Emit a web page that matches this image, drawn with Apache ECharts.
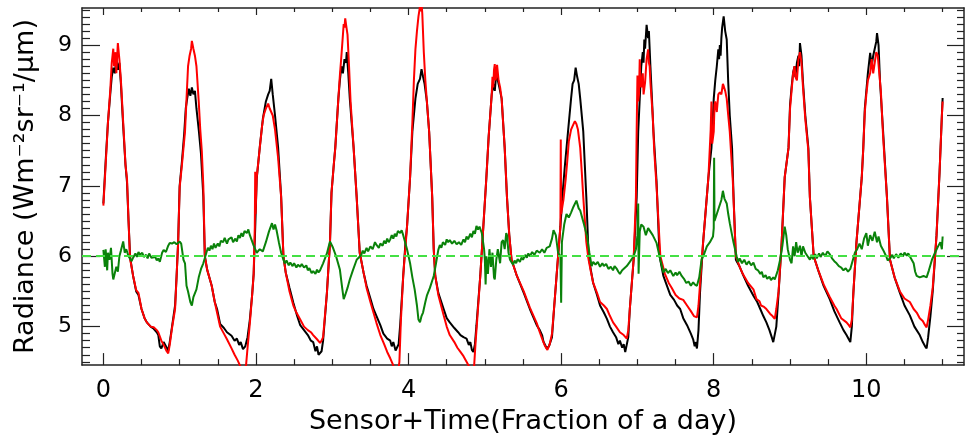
<!DOCTYPE html>
<html>
<head>
<meta charset="utf-8">
<script src="https://cdn.jsdelivr.net/npm/echarts@6/dist/echarts.min.js"></script>
<style>
html,body{margin:0;padding:0;background:#fff;}
#chart{width:965px;height:440px;}
</style>
</head>
<body>
<div id="chart"></div>
<script>
// ---- Data ----
const xTickLabels = [0, 2, 4, 6, 8, 10];
const yTickLabels = [5, 6, 7, 8, 9];
const referenceLevel = 6.0;

const blackSeries = [
[0.00,6.75],[0.03,7.35],[0.06,7.9],[0.09,8.3],[0.11,8.55],[0.13,8.68],[0.15,8.6],[0.17,8.8],[0.19,8.65],[0.21,8.75],[0.23,8.45],[0.26,7.85],[0.29,7.3],[0.31,7.05],[0.33,6.5],[0.35,6.0],[0.37,5.85],[0.39,5.72],[0.43,5.5],[0.46,5.45],[0.50,5.25],[0.54,5.12],[0.57,5.06],[0.62,5.0],[0.66,4.97],[0.70,4.92],[0.72,4.88],[0.74,4.72],[0.76,4.69],[0.79,4.78],[0.82,4.72],[0.85,4.66],
[0.87,4.78],[0.90,5.0],[0.94,5.3],[0.96,5.72],[0.98,6.2],[1.00,7.0],[1.03,7.35],[1.06,7.75],[1.08,8.1],[1.10,8.25],[1.12,8.38],[1.14,8.28],[1.16,8.4],[1.18,8.3],[1.20,8.35],[1.22,8.1],[1.25,7.8],[1.28,7.45],[1.31,6.85],[1.33,6.0],[1.36,5.81],[1.42,5.58],[1.46,5.35],[1.49,5.25],[1.53,5.04],[1.58,4.98],[1.62,4.92],[1.68,4.87],[1.72,4.8],[1.75,4.83],[1.78,4.74],[1.80,4.78],[1.83,4.68],
[1.86,4.72],[1.89,4.85],[1.92,5.1],[1.95,5.45],[1.97,5.75],[1.99,6.4],[2.01,7.1],[2.05,7.55],[2.09,7.95],[2.13,8.2],[2.16,8.3],[2.18,8.35],[2.20,8.52],[2.22,8.3],[2.25,8.0],[2.29,7.55],[2.33,6.85],[2.36,6.0],[2.39,5.77],[2.44,5.55],[2.49,5.34],[2.54,5.15],[2.58,5.02],[2.63,4.95],[2.68,4.88],[2.72,4.8],[2.75,4.78],[2.78,4.65],[2.80,4.72],[2.82,4.6],[2.84,4.58],
[2.86,4.65],[2.88,4.8],[2.93,5.48],[2.97,6.19],[2.99,6.9],[3.02,7.3],[3.04,7.55],[3.08,8.24],[3.10,8.5],[3.12,8.7],[3.14,8.6],[3.16,8.8],[3.18,8.75],[3.19,8.9],[3.21,8.6],[3.23,8.24],[3.28,7.54],[3.32,6.84],[3.36,6.05],[3.41,5.77],[3.45,5.58],[3.50,5.4],[3.54,5.25],[3.58,5.15],[3.63,5.02],[3.67,4.9],[3.72,4.83],[3.76,4.8],[3.78,4.72],[3.80,4.78],[3.83,4.66],[3.85,4.64],
[3.87,4.75],[3.89,5.02],[3.93,5.72],[3.96,6.2],[3.98,6.42],[4.02,7.12],[4.05,7.77],[4.09,8.24],[4.12,8.45],[4.15,8.52],[4.17,8.66],[4.19,8.55],[4.21,8.45],[4.24,8.2],[4.27,7.77],[4.31,6.84],[4.33,6.1],[4.35,5.72],[4.39,5.48],[4.46,5.25],[4.50,5.12],[4.54,5.06],[4.60,4.98],[4.65,4.92],[4.68,4.88],[4.72,4.85],[4.76,4.83],[4.79,4.74],[4.81,4.78],[4.83,4.67],[4.85,4.64],
[4.87,4.75],[4.89,5.02],[4.94,5.72],[4.98,6.42],[5.02,7.12],[5.05,7.7],[5.07,8.0],[5.09,8.3],[5.11,8.45],[5.13,8.35],[5.15,8.6],[5.17,8.5],[5.19,8.4],[5.22,8.24],[5.26,7.54],[5.29,6.84],[5.32,6.3],[5.35,5.95],[5.42,5.72],[5.51,5.48],[5.59,5.25],[5.68,5.02],[5.72,4.95],[5.75,4.88],[5.77,4.78],[5.79,4.74],[5.81,4.69],
[5.84,4.72],[5.88,4.85],[5.91,5.3],[5.94,5.72],[5.99,6.42],[6.02,6.9],[6.05,7.3],[6.09,7.77],[6.13,8.24],[6.15,8.45],[6.17,8.5],[6.19,8.68],[6.21,8.55],[6.23,8.45],[6.25,8.24],[6.29,7.77],[6.31,7.3],[6.33,6.84],[6.36,6.0],[6.39,5.8],[6.42,5.62],[6.47,5.45],[6.51,5.3],[6.56,5.2],[6.60,5.11],[6.64,5.0],[6.68,4.92],[6.72,4.85],[6.75,4.75],[6.77,4.8],[6.80,4.7],[6.82,4.75],[6.84,4.64],[6.86,4.62],
[6.88,4.85],[6.90,5.25],[6.95,5.95],[6.99,6.84],[7.01,7.77],[7.03,8.24],[7.05,8.7],[7.07,8.9],[7.08,8.75],[7.09,9.08],[7.10,8.95],[7.12,9.29],[7.14,9.1],[7.15,9.2],[7.17,8.7],[7.19,8.24],[7.21,7.77],[7.25,7.07],[7.29,6.0],[7.34,5.72],[7.38,5.6],[7.43,5.45],[7.48,5.38],[7.52,5.3],[7.56,5.25],[7.60,5.12],[7.65,5.02],[7.70,4.9],[7.73,4.82],[7.75,4.72],[7.76,4.78],[7.78,4.69],
[7.80,4.95],[7.82,5.48],[7.86,6.19],[7.93,7.12],[7.97,7.54],[8.00,8.24],[8.02,8.5],[8.04,8.7],[8.06,8.94],[8.07,8.8],[8.08,9.0],[8.09,8.85],[8.10,9.1],[8.11,9.25],[8.13,9.41],[8.15,9.2],[8.17,9.08],[8.19,8.47],[8.21,8.0],[8.24,7.54],[8.26,6.84],[8.29,5.95],[8.34,5.85],[8.39,5.72],[8.45,5.58],[8.52,5.44],[8.57,5.35],[8.61,5.25],[8.65,5.15],[8.69,5.06],[8.73,4.95],[8.76,4.85],[8.78,4.78],[8.80,4.76],
[8.82,5.0],[8.85,5.48],[8.89,6.19],[8.93,7.12],[8.98,7.54],[9.00,8.15],[9.02,8.4],[9.04,8.61],[9.06,8.7],[9.07,8.55],[9.09,8.75],[9.11,8.85],[9.12,8.7],[9.13,9.03],[9.15,8.85],[9.17,8.47],[9.20,8.0],[9.24,7.54],[9.26,6.84],[9.31,6.0],[9.37,5.8],[9.44,5.58],[9.52,5.39],[9.58,5.22],[9.65,5.06],[9.70,4.95],[9.74,4.88],[9.77,4.82],[9.79,4.78],
[9.81,5.0],[9.83,5.48],[9.87,6.19],[9.94,7.12],[9.96,7.54],[9.98,8.1],[10.00,8.35],[10.02,8.6],[10.05,8.89],[10.07,8.7],[10.09,8.85],[10.11,8.95],[10.13,9.05],[10.14,9.17],[10.16,9.0],[10.18,8.47],[10.22,7.77],[10.27,6.84],[10.31,5.95],[10.37,5.7],[10.44,5.48],[10.50,5.3],[10.57,5.16],[10.63,5.0],[10.70,4.88],[10.74,4.78],[10.77,4.72],[10.79,4.69],
[10.81,4.85],[10.84,5.15],[10.87,5.5],[10.92,6.3],[10.96,7.2],[10.99,8.0],[11.00,8.25]
];

const redSeries = [
[0.00,6.72],[0.03,7.3],[0.06,7.9],[0.09,8.35],[0.11,8.75],[0.13,8.95],[0.14,8.7],[0.16,8.9],[0.17,8.6],[0.19,9.03],[0.21,8.8],[0.23,8.5],[0.26,7.9],[0.29,7.3],[0.31,7.1],[0.33,6.5],[0.35,5.96],[0.37,5.85],[0.39,5.72],[0.43,5.52],[0.46,5.48],[0.50,5.25],[0.54,5.12],[0.57,5.06],[0.62,5.0],[0.66,4.99],[0.70,4.95],[0.72,4.92],[0.76,4.8],[0.80,4.72],[0.83,4.65],[0.85,4.62],
[0.87,4.74],[0.90,4.98],[0.94,5.25],[0.96,5.72],[0.98,6.19],[1.00,6.98],[1.03,7.3],[1.07,7.77],[1.09,8.24],[1.11,8.7],[1.13,8.85],[1.15,8.95],[1.16,9.06],[1.18,8.95],[1.20,8.85],[1.22,8.7],[1.25,8.2],[1.27,7.8],[1.29,7.5],[1.31,7.0],[1.33,6.0],[1.36,5.81],[1.42,5.58],[1.46,5.35],[1.49,5.2],[1.53,5.0],[1.58,4.9],[1.62,4.82],[1.68,4.69],[1.72,4.6],[1.76,4.52],[1.79,4.45],[1.81,4.38],[1.84,4.35],
[1.87,4.45],[1.89,4.7],[1.92,5.05],[1.95,5.45],[1.97,5.75],[1.985,6.42],[1.99,7.2],[1.995,6.6],[2.01,7.12],[2.05,7.54],[2.08,7.85],[2.10,8.0],[2.13,8.1],[2.16,8.17],[2.18,8.1],[2.20,8.12],[2.22,8.0],[2.25,7.8],[2.29,7.4],[2.33,6.84],[2.36,6.0],[2.39,5.77],[2.44,5.5],[2.49,5.3],[2.53,5.2],[2.58,5.1],[2.63,5.0],[2.68,4.95],[2.72,4.92],[2.75,4.88],[2.80,4.82],[2.84,4.77],
[2.86,4.8],[2.88,4.85],[2.93,5.48],[2.97,6.19],[2.99,6.9],[3.02,7.3],[3.04,7.54],[3.08,8.24],[3.10,8.57],[3.12,8.85],[3.14,9.15],[3.15,9.3],[3.16,9.25],[3.17,9.38],[3.18,9.3],[3.20,9.15],[3.22,8.7],[3.24,8.2],[3.28,7.54],[3.32,6.84],[3.36,6.05],[3.41,5.77],[3.45,5.55],[3.50,5.35],[3.54,5.2],[3.58,5.05],[3.63,4.88],[3.68,4.75],[3.72,4.64],[3.76,4.55],[3.80,4.45],[3.83,4.38],[3.86,4.33],
[3.88,4.5],[3.90,5.1],[3.93,5.72],[3.98,6.42],[4.02,7.12],[4.05,7.9],[4.07,8.5],[4.09,8.94],[4.11,9.2],[4.13,9.41],[4.15,9.55],[4.16,9.48],[4.17,9.6],[4.18,9.45],[4.20,8.9],[4.22,8.5],[4.24,8.2],[4.27,7.77],[4.31,6.84],[4.33,6.1],[4.35,5.72],[4.39,5.45],[4.46,5.16],[4.50,5.0],[4.54,4.88],[4.60,4.78],[4.64,4.7],[4.68,4.64],[4.72,4.58],[4.76,4.5],[4.80,4.42],[4.84,4.35],
[4.86,4.45],[4.88,4.8],[4.90,5.1],[4.94,5.72],[4.98,6.42],[5.02,7.12],[5.05,7.7],[5.07,8.0],[5.09,8.3],[5.10,8.55],[5.11,8.4],[5.12,8.65],[5.13,8.73],[5.14,8.5],[5.15,8.55],[5.16,8.72],[5.18,8.5],[5.20,8.4],[5.22,8.24],[5.26,7.54],[5.29,6.84],[5.32,6.3],[5.35,5.95],[5.42,5.72],[5.51,5.5],[5.59,5.27],[5.68,5.05],[5.72,4.92],[5.76,4.8],[5.79,4.72],[5.82,4.67],
[5.85,4.75],[5.88,4.9],[5.91,5.3],[5.94,5.72],[5.99,6.42],[5.995,7.66],[6.00,6.6],[6.03,6.8],[6.06,7.1],[6.08,7.35],[6.10,7.63],[6.13,7.8],[6.15,7.85],[6.18,7.92],[6.20,7.88],[6.22,7.8],[6.25,7.54],[6.27,7.2],[6.29,6.84],[6.33,6.2],[6.36,5.95],[6.39,5.78],[6.42,5.62],[6.47,5.48],[6.51,5.35],[6.56,5.3],[6.60,5.25],[6.64,5.15],[6.68,5.06],[6.72,5.0],[6.77,4.92],[6.82,4.88],[6.86,4.83],
[6.88,4.95],[6.90,5.25],[6.95,5.95],[6.98,6.84],[6.99,7.8],[7.00,8.57],[7.01,8.2],[7.02,8.3],[7.03,8.8],[7.04,8.45],[7.05,8.4],[7.07,8.6],[7.08,8.3],[7.10,8.47],[7.12,8.8],[7.14,8.94],[7.15,8.75],[7.16,8.7],[7.17,8.47],[7.20,8.0],[7.22,7.5],[7.25,7.0],[7.30,6.0],[7.36,5.75],[7.41,5.62],[7.45,5.55],[7.50,5.45],[7.55,5.4],[7.60,5.38],[7.65,5.3],[7.70,5.22],[7.74,5.15],[7.78,5.13],
[7.80,5.3],[7.82,5.6],[7.86,6.19],[7.93,7.12],[7.96,7.8],[7.97,8.2],[7.98,7.6],[8.00,7.77],[8.01,8.15],[8.02,8.2],[8.04,8.05],[8.06,8.3],[8.08,8.33],[8.10,8.3],[8.12,8.45],[8.13,8.42],[8.15,8.35],[8.17,8.24],[8.19,8.0],[8.21,7.77],[8.25,7.07],[8.29,6.0],[8.34,5.85],[8.38,5.75],[8.45,5.62],[8.52,5.53],[8.56,5.39],[8.60,5.36],[8.62,5.3],[8.66,5.28],[8.69,5.25],[8.74,5.18],[8.77,5.15],[8.80,5.11],
[8.82,5.25],[8.85,5.5],[8.89,6.19],[8.93,7.12],[8.98,7.54],[9.00,8.1],[9.02,8.35],[9.04,8.6],[9.06,8.7],[9.07,8.55],[9.09,8.5],[9.11,8.8],[9.13,8.9],[9.15,8.75],[9.17,8.4],[9.20,7.95],[9.24,7.5],[9.26,6.84],[9.31,6.0],[9.37,5.8],[9.44,5.6],[9.52,5.42],[9.58,5.3],[9.61,5.25],[9.67,5.12],[9.74,5.06],[9.77,5.02],[9.79,4.99],
[9.81,5.1],[9.83,5.48],[9.87,6.19],[9.94,7.12],[9.96,7.54],[9.98,8.05],[10.00,8.3],[10.02,8.5],[10.05,8.6],[10.07,8.8],[10.09,8.6],[10.11,8.75],[10.13,8.9],[10.15,8.85],[10.17,8.6],[10.19,8.35],[10.22,7.7],[10.27,6.84],[10.31,5.95],[10.37,5.7],[10.44,5.5],[10.50,5.4],[10.57,5.35],[10.62,5.25],[10.66,5.2],[10.70,5.12],[10.74,5.08],[10.77,5.02],[10.79,4.99],
[10.81,5.1],[10.84,5.3],[10.87,5.55],[10.92,6.3],[10.96,7.2],[10.99,8.0],[11.00,8.2]
];

const greenSeries = [
[0.00,6.09],[0.02,5.85],[0.03,6.10],[0.05,5.80],[0.06,6.05],[0.08,5.95],[0.10,6.12],[0.12,5.75],[0.13,5.67],[0.15,5.65],[0.17,5.85],[0.19,5.78],[0.21,6.00],[0.23,6.08],[0.26,6.21],[0.28,6.05],[0.30,6.10],[0.33,6.00],
[0.35,6.00],[0.37,5.93],[0.39,5.98],[0.42,6.04],[0.44,5.99],[0.46,6.06],[0.48,6.02],[0.51,6.05],[0.53,5.99],[0.56,6.02],[0.58,5.97],[0.60,6.04],[0.63,5.98],[0.65,5.96],[0.68,5.99],[0.70,5.94],[0.72,5.97],[0.74,5.92],[0.77,6.05],[0.79,6.09],[0.82,6.06],[0.85,6.15],[0.87,6.19],[0.90,6.18],[0.93,6.20],[0.96,6.17],[1.00,6.21],[1.02,6.18],
[1.05,5.95],[1.07,5.90],[1.09,5.58],[1.11,5.50],[1.14,5.35],[1.16,5.30],[1.18,5.42],[1.20,5.40],[1.22,5.53],[1.25,5.70],[1.28,5.82],[1.31,5.90],
[1.35,6.05],[1.37,6.12],[1.39,6.08],[1.41,6.15],[1.43,6.10],[1.45,6.18],[1.47,6.12],[1.50,6.18],[1.52,6.14],[1.54,6.22],[1.57,6.20],[1.59,6.26],[1.62,6.18],[1.64,6.24],[1.66,6.22],[1.68,6.27],[1.70,6.20],[1.73,6.25],[1.75,6.21],[1.77,6.30],[1.79,6.26],[1.81,6.33],[1.83,6.28],[1.85,6.36],[1.88,6.33],[1.90,6.38],[1.92,6.30],[1.94,6.28],[1.97,6.15],
[2.01,6.05],[2.05,6.10],[2.09,6.07],[2.13,6.20],[2.17,6.35],[2.21,6.47],[2.23,6.38],[2.25,6.45],[2.27,6.37],[2.30,6.20],[2.33,6.05],
[2.36,5.95],[2.38,5.90],[2.40,5.94],[2.43,5.87],[2.45,5.91],[2.48,5.86],[2.50,5.90],[2.53,5.84],[2.55,5.88],[2.58,5.85],[2.60,5.89],[2.63,5.84],[2.66,5.87],[2.68,5.80],[2.70,5.83],[2.73,5.76],[2.75,5.79],[2.78,5.75],[2.80,5.81],[2.82,5.77],[2.84,5.80],[2.88,5.90],[2.93,6.04],[2.97,6.21],
[3.01,6.12],[3.05,6.00],[3.10,5.81],[3.13,5.55],[3.15,5.39],[3.17,5.45],[3.20,5.55],[3.23,5.67],[3.27,5.80],[3.32,5.95],
[3.38,6.02],[3.40,6.08],[3.42,6.04],[3.45,6.12],[3.47,6.07],[3.50,6.14],[3.53,6.10],[3.56,6.20],[3.58,6.16],[3.61,6.12],[3.63,6.18],[3.66,6.15],[3.68,6.22],[3.70,6.18],[3.72,6.25],[3.74,6.20],[3.76,6.24],[3.78,6.30],[3.80,6.25],[3.82,6.32],[3.84,6.28],[3.86,6.36],[3.89,6.33],[3.91,6.37],[3.93,6.30],[3.95,6.28],[3.98,6.10],
[4.02,5.90],[4.05,5.70],[4.08,5.53],[4.11,5.30],[4.13,5.10],[4.15,5.06],[4.17,5.15],[4.19,5.20],[4.22,5.35],[4.24,5.44],[4.28,5.55],[4.33,5.72],[4.36,5.90],
[4.39,6.09],[4.41,6.16],[4.43,6.12],[4.45,6.20],[4.48,6.16],[4.50,6.24],[4.52,6.20],[4.54,6.23],[4.57,6.18],[4.60,6.22],[4.63,6.17],[4.66,6.20],[4.69,6.16],[4.72,6.24],[4.74,6.20],[4.76,6.28],[4.78,6.24],[4.81,6.32],[4.83,6.27],[4.85,6.36],[4.87,6.32],[4.89,6.43],[4.91,6.38],[4.93,6.42],[4.96,6.33],[4.99,6.10],
[5.00,5.95],[5.01,5.60],[5.02,6.00],[5.04,5.75],[5.06,6.10],[5.08,5.85],[5.10,6.05],[5.12,5.70],[5.13,5.67],[5.15,5.95],[5.17,6.10],[5.20,5.90],[5.22,6.20],[5.24,6.23],[5.26,6.10],[5.28,6.33],[5.29,6.30],[5.31,6.05],[5.33,5.95],
[5.37,5.88],[5.39,5.94],[5.41,5.90],[5.43,5.96],[5.46,5.92],[5.48,5.98],[5.50,5.95],[5.53,6.02],[5.55,5.98],[5.57,6.04],[5.59,6.00],[5.62,6.06],[5.65,6.02],[5.68,6.08],[5.72,6.05],[5.75,6.10],[5.78,6.05],[5.81,6.12],[5.85,6.14],[5.88,6.25],[5.90,6.37],[5.93,6.30],[5.96,6.05],[5.99,6.00],
[6.00,5.34],[6.01,6.20],[6.04,6.45],[6.07,6.60],[6.10,6.55],[6.13,6.62],[6.16,6.70],[6.20,6.79],[6.23,6.68],[6.25,6.65],[6.30,6.45],[6.34,6.28],[6.37,6.05],
[6.40,5.86],[6.42,5.92],[6.45,5.88],[6.48,5.92],[6.51,5.85],[6.54,5.90],[6.56,5.86],[6.59,5.89],[6.62,5.82],[6.65,5.85],[6.68,5.80],[6.70,5.86],[6.73,5.82],[6.75,5.78],[6.77,5.75],[6.80,5.80],[6.82,5.78],[6.86,5.86],[6.90,5.92],[6.95,6.00],[6.98,6.10],
[7.00,6.30],[7.01,6.75],[7.015,5.75],[7.03,6.35],[7.05,6.45],[7.08,6.42],[7.11,6.30],[7.14,6.40],[7.17,6.35],[7.20,6.30],[7.25,6.19],[7.30,5.95],
[7.34,5.77],[7.37,5.82],[7.40,5.76],[7.43,5.80],[7.47,5.72],[7.50,5.77],[7.52,5.73],[7.55,5.78],[7.58,5.72],[7.61,5.68],[7.64,5.62],[7.67,5.64],[7.70,5.58],[7.73,5.63],[7.75,5.60],[7.78,5.58],[7.81,5.70],[7.84,5.95],[7.88,6.05],[7.91,6.14],[7.95,6.20],[7.99,6.28],
[8.00,6.40],[8.005,7.40],[8.01,6.50],[8.04,6.60],[8.07,6.70],[8.10,6.80],[8.12,6.93],[8.14,6.82],[8.17,6.75],[8.19,6.60],[8.21,6.47],[8.24,6.30],[8.26,6.19],
[8.30,6.00],[8.32,5.92],[8.34,5.97],[8.37,5.90],[8.40,5.95],[8.43,5.88],[8.46,5.93],[8.49,5.87],[8.52,5.91],[8.55,5.82],[8.58,5.80],[8.61,5.75],[8.63,5.78],[8.65,5.70],[8.68,5.73],[8.70,5.68],[8.73,5.71],[8.75,5.66],[8.78,5.70],[8.80,5.67],[8.84,5.80],[8.87,5.95],[8.90,6.15],[8.93,6.42],[8.95,6.30],[8.97,6.10],
[9.00,5.95],[9.02,5.90],[9.04,6.14],[9.06,6.00],[9.08,6.20],[9.10,6.05],[9.13,6.15],[9.15,6.00],[9.17,6.14],[9.20,6.05],[9.23,6.00],
[9.26,5.95],[9.28,6.02],[9.30,5.96],[9.33,6.03],[9.35,5.97],[9.38,6.04],[9.40,5.99],[9.43,6.05],[9.46,6.00],[9.49,6.07],[9.52,6.03],[9.55,5.97],[9.58,5.93],[9.61,5.90],[9.64,5.86],[9.67,5.84],[9.70,5.80],[9.73,5.83],[9.76,5.78],[9.79,5.82],[9.81,5.81],[9.85,6.05],[9.88,6.10],[9.91,6.18],[9.94,6.10],[9.97,6.25],
[10.00,6.33],[10.02,6.15],[10.05,6.30],[10.08,6.22],[10.11,6.35],[10.14,6.20],[10.16,6.28],[10.19,6.15],[10.22,6.09],
[10.26,6.00],[10.28,5.94],[10.31,5.97],[10.34,6.02],[10.36,5.97],[10.39,6.03],[10.42,5.98],[10.45,6.04],[10.48,6.00],[10.50,6.05],[10.53,6.01],[10.55,6.04],[10.58,5.98],[10.60,5.94],[10.62,5.90],[10.64,5.78],[10.66,5.72],[10.70,5.70],[10.75,5.72],[10.79,5.70],[10.82,5.80],[10.86,5.95],[10.90,6.05],[10.94,6.14],[10.97,6.20],[10.99,6.10],[11.00,6.28]
];

// ---- Axis geometry ----
const X_MIN = -0.28, X_MAX = 11.28;
const Y_MIN = 4.453, Y_MAX = 9.528;

function steps(lo, hi, step, skipEvery) {
  const out = [];
  for (let i = 0; ; i++) {
    const v = +(lo + i * step).toFixed(3);
    if (v > hi + 1e-9) break;
    if (skipEvery && Math.abs(v / skipEvery - Math.round(v / skipEvery)) < 1e-6) continue;
    out.push(v);
  }
  return out;
}
const xMinor = steps(0, 11, 0.5, 2);
const yMinor = steps(4.5, 9.5, 0.1, 1);

const FONT = 'DejaVu Sans';
const frameLine = { show: true, onZero: false, lineStyle: { color: '#222', width: 1.5 } };
const noLine = { show: false, onZero: false };

function xAx(pos, vals, len, withLine, withLabel) {
  return {
    type: 'value', position: pos, min: X_MIN, max: X_MAX, gridIndex: 0,
    splitLine: { show: false },
    axisLine: withLine ? frameLine : noLine,
    axisTick: { show: true, inside: true, length: len, customValues: vals, lineStyle: { color: '#222', width: 1.2 } },
    axisLabel: withLabel ? { show: true, customValues: vals, margin: 14, color: '#000', fontFamily: FONT, fontSize: 24 } : { show: false }
  };
}
function yAx(pos, vals, len, withLine, withLabel) {
  return {
    type: 'value', position: pos, min: Y_MIN, max: Y_MAX, gridIndex: 0,
    splitLine: { show: false },
    axisLine: withLine ? frameLine : noLine,
    axisTick: { show: true, inside: true, length: len, customValues: vals, lineStyle: { color: '#222', width: 1.2 } },
    axisLabel: withLabel ? { show: true, customValues: vals, margin: 10, color: '#000', fontFamily: FONT, fontSize: 22 } : { show: false }
  };
}

const xMain = xAx('bottom', xTickLabels, 12, true, true);
xMain.name = 'Sensor+Time(Fraction of a day)';
xMain.nameLocation = 'middle';
xMain.nameGap = 39;
xMain.nameTextStyle = { fontFamily: FONT, fontSize: 27, color: '#000' };

const yMain = yAx('left', yTickLabels, 18, true, true);
yMain.name = 'Radiance (Wm\u207B\u00B2sr\u207B\u00B9/\u03BCm)';
yMain.nameLocation = 'middle';
yMain.nameGap = 43;
yMain.nameTextStyle = { fontFamily: FONT, fontSize: 27, color: '#000' };

const chart = echarts.init(document.getElementById('chart'), null, { renderer: 'canvas' });
chart.setOption({
  animation: false,
  backgroundColor: '#fff',
  grid: { left: 82, right: 1, top: 8, bottom: 70, containLabel: false },
  xAxis: [
    xMain,
    xAx('bottom', xMinor, 6, false, false),
    xAx('top', xTickLabels, 7, true, false),
    xAx('top', xMinor, 4, false, false)
  ],
  yAxis: [
    yMain,
    yAx('left', yMinor, 8, false, false),
    yAx('right', yTickLabels, 17, true, false),
    yAx('right', yMinor, 7, false, false)
  ],
  series: [
    {
      type: 'line', name: 'black', data: blackSeries, xAxisIndex: 0, yAxisIndex: 0,
      showSymbol: false, symbol: 'none', clip: true,
      lineStyle: { color: '#000', width: 2 }, z: 2
    },
    {
      type: 'line', name: 'red', data: redSeries, xAxisIndex: 0, yAxisIndex: 0,
      showSymbol: false, symbol: 'none', clip: true,
      lineStyle: { color: '#ff0000', width: 2 }, z: 3
    },
    {
      type: 'line', name: 'green', data: greenSeries, xAxisIndex: 0, yAxisIndex: 0,
      showSymbol: false, symbol: 'none', clip: true,
      lineStyle: { color: '#0a820a', width: 2 }, z: 4,
      markLine: {
        silent: true, symbol: ['none', 'none'], label: { show: false },
        lineStyle: { color: '#44e044', width: 2, type: [9, 5] },
        data: [{ yAxis: referenceLevel }]
      }
    }
  ]
});
</script>
</body>
</html>
